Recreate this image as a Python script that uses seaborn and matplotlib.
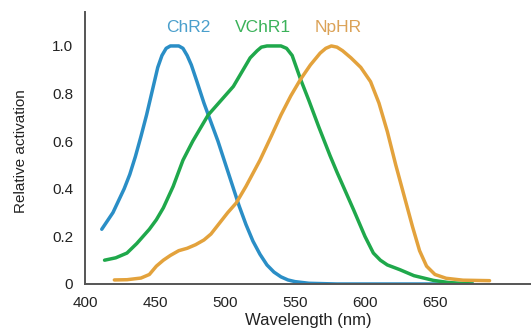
import matplotlib
matplotlib.use("Agg")
import matplotlib.pyplot as plt
import seaborn as sns
import pandas as pd

# ChR2
chr2_nm = [412, 416, 420, 424, 428, 432, 436, 440, 444, 448, 452, 455, 458, 461, 464, 467, 470, 473,
           476, 480, 485, 490, 495, 500, 505, 510, 515, 520, 525, 530, 535, 540, 545, 550, 560, 580,
           620, 650, 677]
chr2_v = [0.23, 0.265, 0.30, 0.35, 0.40, 0.46, 0.535, 0.62, 0.71, 0.81, 0.91, 0.96, 0.99, 1.0, 1.0,
          1.0, 0.99, 0.96, 0.92, 0.85, 0.76, 0.68, 0.60, 0.51, 0.42, 0.33, 0.25, 0.18, 0.125, 0.08,
          0.05, 0.03, 0.017, 0.01, 0.003, 0.0, 0.0, 0.0, 0.0]
# VChR1
vchr1_nm = [414, 422, 430, 437, 446, 451, 456, 463, 470, 477, 483, 488, 497, 506, 512, 518, 523, 526,
            530, 535, 540, 544, 548, 551, 554, 560, 567, 575, 580, 586, 592, 600, 606, 611, 616, 625,
            635, 649, 660, 677]
vchr1_v = [0.10, 0.11, 0.13, 0.17, 0.23, 0.27, 0.32, 0.41, 0.52, 0.60, 0.66, 0.71, 0.77, 0.83, 0.89,
           0.95, 0.98, 0.995, 1.0, 1.0, 1.0, 0.99, 0.96, 0.91, 0.86, 0.77, 0.66, 0.54, 0.47, 0.39,
           0.31, 0.20, 0.13, 0.10, 0.08, 0.06, 0.035, 0.015, 0.006, 0.0]
# NpHR
nphr_nm = [421, 430, 440, 446, 451, 456, 461, 467, 473, 479, 485, 490, 496, 502, 508, 515, 525, 533,
           540, 547, 554, 561, 568, 572, 576, 580, 584, 590, 597, 604, 610, 616, 622, 628, 634, 639,
           644, 650, 658, 670, 689]
nphr_v = [0.017, 0.018, 0.025, 0.04, 0.075, 0.10, 0.12, 0.14, 0.15, 0.165, 0.185, 0.21, 0.255, 0.30,
          0.34, 0.41, 0.52, 0.62, 0.71, 0.79, 0.86, 0.92, 0.97, 0.99, 1.0, 0.995, 0.98, 0.95, 0.91,
          0.85, 0.76, 0.64, 0.50, 0.37, 0.24, 0.14, 0.075, 0.04, 0.024, 0.016, 0.014]

names = ["ChR2", "VChR1", "NpHR"]
line_colors = ["#2a8ec6", "#1fa84b", "#e3a23c"]
label_colors = ["#4a9fcc", "#3bb25a", "#dba257"]
label_x = [474, 527, 581]

xticks = [400, 450, 500, 550, 600, 650, 700]
xtick_labels = ["400", "450", "500", "550", "600", "650", ""]
yticks = [0, 0.2, 0.4, 0.6, 0.8, 1.0]
ytick_labels = ["0", "0.2", "0.4", "0.6", "0.8", "1.0"]

df = pd.concat([
    pd.DataFrame({"nm": chr2_nm, "v": chr2_v, "opsin": "ChR2"}),
    pd.DataFrame({"nm": vchr1_nm, "v": vchr1_v, "opsin": "VChR1"}),
    pd.DataFrame({"nm": nphr_nm, "v": nphr_v, "opsin": "NpHR"}),
])

sns.set_style("white")
plt.rcParams["font.family"] = ["Liberation Sans", "DejaVu Sans"]

fig = plt.figure(figsize=(5.31, 3.31), dpi=100)
ax = fig.add_axes([0.160, 0.142, 0.840, 0.822])
sns.lineplot(data=df, x="nm", y="v", hue="opsin", hue_order=names,
             palette=dict(zip(names, line_colors)), linewidth=2.5, legend=False,
             ax=ax, sort=True, estimator=None,
             solid_joinstyle="round", solid_capstyle="round")

ax.set_xlim(400, 718.6)
ax.set_ylim(0, 1.143)
ax.set_xticks(xticks)
ax.set_xticklabels(xtick_labels)
ax.set_yticks(yticks)
ax.set_yticklabels(ytick_labels)
axis_col = "#555555"
for s in ["top", "right"]:
    ax.spines[s].set_visible(False)
for s in ["left", "bottom"]:
    ax.spines[s].set_color(axis_col)
    ax.spines[s].set_linewidth(1.4)
ax.tick_params(axis="both", direction="out", length=5, width=1.2, color=axis_col,
               labelsize=11, labelcolor="#222222", pad=3.5)
ax.set_xlabel("Wavelength (nm)", fontsize=12, color="#222222", labelpad=2)
ax.set_ylabel("Relative activation", fontsize=11, color="#222222")
ax.yaxis.set_label_coords(-0.128, 0.49)

for n, c, lx in zip(names, label_colors, label_x):
    ax.text(lx, 1.076, n, color=c, fontsize=12.5, ha="center", va="center")

fig.savefig("out.png", dpi=100)
